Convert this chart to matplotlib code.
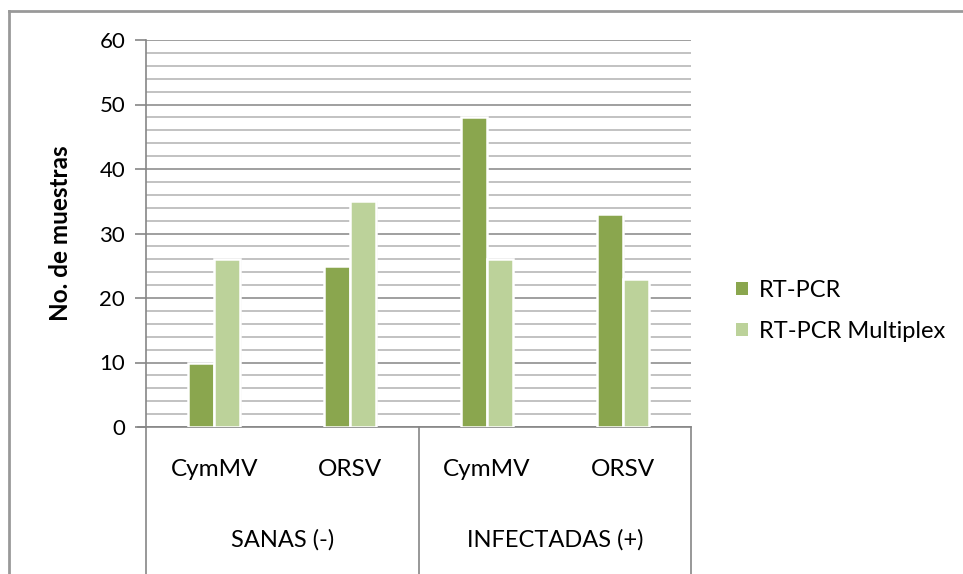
import numpy as np
import matplotlib
matplotlib.use("Agg")
import matplotlib.pyplot as plt
from matplotlib.lines import Line2D
from matplotlib.patches import Patch
import matplotlib.transforms as mtransforms

plt.rcParams['font.family'] = ['Lato', 'DejaVu Sans']

# --- datos ---
virus = ['CymMV', 'ORSV', 'CymMV', 'ORSV']
grupos = ['SANAS (-)', 'INFECTADAS (+)']
rt_pcr = [10, 25, 48, 33]
rt_pcr_multiplex = [26, 35, 26, 23]
series = ['RT-PCR', 'RT-PCR Multiplex']

C_DARK = '#8aa64e'
C_LIGHT = '#bcd29a'
C_AXIS = '#868686'
C_GRID_MAJ = '#8f8f8f'
C_GRID_MIN = '#b8b8b8'

W, H = 963, 574
fig = plt.figure(figsize=(W / 100, H / 100), dpi=100)
left, right, top, bottom = 146, 691, 40, 427
ax = fig.add_axes([left / W, 1 - bottom / H, (right - left) / W, (bottom - top) / H])

x = np.arange(len(virus))
w = 0.19
# sombra suave
off = 0.012
ax.bar(x - w / 2 + off, rt_pcr, w, color='#000000', alpha=0.06, zorder=2, linewidth=0)
ax.bar(x + w / 2 + off, rt_pcr_multiplex, w, color='#000000', alpha=0.06, zorder=2, linewidth=0)
ax.bar(x - w / 2, rt_pcr, w, color=C_DARK, edgecolor='white', linewidth=1.8, zorder=3)
ax.bar(x + w / 2, rt_pcr_multiplex, w, color=C_LIGHT, edgecolor='white', linewidth=1.8, zorder=3)

ax.set_xlim(-0.5, len(virus) - 0.5)
ax.set_ylim(0, 60)
ax.set_yticks(np.arange(0, 61, 10))
ax.set_yticks(np.arange(0, 61, 2), minor=True)
ax.tick_params(axis='y', which='major', length=8, width=1.2, color=C_AXIS,
               labelsize=16, pad=7)
ax.tick_params(axis='y', which='minor', length=0)
ax.set_xticks([])
ax.grid(axis='y', which='major', color=C_GRID_MAJ, linewidth=1.2, zorder=0)
ax.grid(axis='y', which='minor', color=C_GRID_MIN, linewidth=1.2, zorder=0)
ax.set_axisbelow(True)
for s in ['top', 'right']:
    ax.spines[s].set_visible(False)
ax.spines['left'].set_color(C_AXIS)
ax.spines['left'].set_linewidth(1.2)
ax.spines['bottom'].set_color(C_AXIS)
ax.spines['bottom'].set_linewidth(1.2)

fig.text(61 / W, 1 - 233 / H, 'No. de muestras', rotation=90, ha='center', va='center',
         fontsize=17.5, fontweight='bold')

# eje de categorías en dos niveles
ext = (H - bottom) / (bottom - top)
for xv in (0, 0.5, 1):
    ax.add_line(Line2D([xv, xv], [0, -ext], transform=ax.transAxes, color=C_AXIS,
                       linewidth=1.2, clip_on=False))
ax.add_line(Line2D([-8 / (right - left), 0], [0, 0], transform=ax.transAxes,
                   color=C_AXIS, linewidth=1.2, clip_on=False))
trans = mtransforms.blended_transform_factory(ax.transData, ax.transAxes)
y_virus = -(470 - bottom) / (bottom - top)
y_grupo = -(540 - bottom) / (bottom - top)
for i, v in enumerate(virus):
    ax.text(x[i], y_virus, v, transform=trans, ha='center', va='center', fontsize=17.5)
for j, g in enumerate(grupos):
    ax.text(0.25 + 0.5 * j, y_grupo, g, transform=ax.transAxes, ha='center',
            va='center', fontsize=17)

# leyenda
handles = [Patch(facecolor=C_DARK, edgecolor='none'), Patch(facecolor=C_LIGHT, edgecolor='none')]
fig.legend(handles, series, loc='center left', bbox_to_anchor=(727 / W, 1 - 311 / H),
           frameon=False, fontsize=17, handlelength=0.5, handleheight=0.5,
           handletextpad=0.45, labelspacing=0.85, borderaxespad=0)

# borde exterior del gráfico
fig.add_artist(Line2D([9 / W, 9 / W], [0, 1 - 11 / H], transform=fig.transFigure,
                      color='#999999', linewidth=2))
fig.add_artist(Line2D([9 / W, 1], [1 - 11 / H, 1 - 11 / H], transform=fig.transFigure,
                      color='#999999', linewidth=2))

fig.savefig('out.png', dpi=100)
